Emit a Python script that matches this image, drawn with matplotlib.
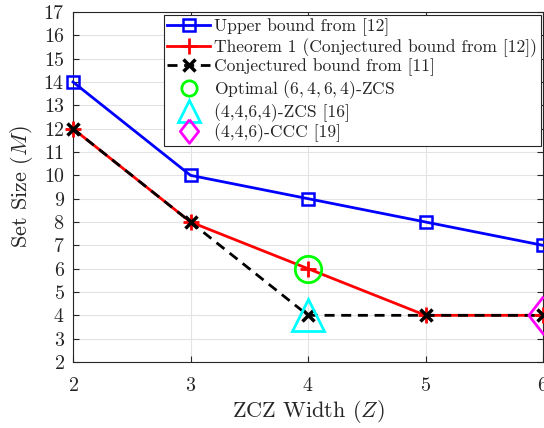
import matplotlib
matplotlib.use("Agg")
import matplotlib.pyplot as plt
from matplotlib.lines import Line2D

plt.rcParams['font.family'] = ['cmr10', 'DejaVu Serif']
plt.rcParams['mathtext.fontset'] = 'cm'
plt.rcParams['axes.formatter.use_mathtext'] = True

# Data
Z = [2, 3, 4, 5, 6]
upper_12 = [14, 10, 9, 8, 7]
theorem1 = [12, 8, 6, 4, 4]
conj_11 = [12, 8, 4, 4, 4]
opt_zcs = ([4], [6])
zcs_16 = ([4], [4])
ccc_19 = ([6], [4])
labels = ['Upper bound from [12]',
          'Theorem 1 (Conjectured bound from [12])',
          'Conjectured bound from [11]',
          r'Optimal $(6,4,6,4)$-ZCS',
          '(4,4,6,4)-ZCS [16]',
          '(4,4,6)-CCC [19]']
xticks = [2, 3, 4, 5, 6]
yticks = list(range(2, 18))

diamond = [(0, 1), (0.78, 0), (0, -1), (-0.78, 0), (0, 1)]

fig = plt.figure(figsize=(5.44, 4.28), dpi=100)
ax = fig.add_axes([73/544, 1 - 362/428, 470/544, 350/428])

ax.plot(Z, upper_12, '-', color='#0000ff', lw=2, marker='s', ms=8,
        mfc='none', mew=1.8, zorder=3, clip_on=False)
ax.plot(Z, theorem1, '-', color='#ff0000', lw=2, marker='+', ms=11,
        mew=2, zorder=4, clip_on=False)
ax.plot(Z, conj_11, color='black', lw=2, ls=(0, (3.6, 2.4)), marker='x',
        ms=8, mew=2.5, zorder=5, clip_on=False)
ax.plot(*opt_zcs, ls='none', marker='o', ms=19, mfc='none', mec='#00ff00',
        mew=2, zorder=6, clip_on=False)
ax.plot(*zcs_16, ls='none', marker='^', ms=23, mfc='none', mec='#00ffff',
        mew=2, zorder=6, clip_on=False)
ax.plot(*ccc_19, ls='none', marker=diamond, ms=27, mfc='none', mec='#ff00ff',
        mew=2, zorder=6, clip_on=False)

ax.set_xlim(2, 6)
ax.set_ylim(2, 17)
ax.set_xticks(xticks)
ax.set_yticks(yticks)
ax.grid(True, color='#e3e3e3', lw=0.8)
ax.set_axisbelow(True)
for s in ax.spines.values():
    s.set_color('#262626')
    s.set_linewidth(0.8)
ax.tick_params(direction='in', length=4.5, width=0.8, color='#262626',
               top=True, right=True, labelsize=14.4, labelcolor='#262626')
ax.tick_params(axis='x', pad=11)
ax.tick_params(axis='y', pad=6)

ax.set_xlabel(r'ZCZ Width ($Z$)', fontsize=16, color='#262626', labelpad=2)
ax.set_ylabel(r'Set Size ($M$)', fontsize=16, color='#262626', labelpad=6)

handles = [
    Line2D([], [], color='#0000ff', lw=2, marker='s', ms=8, mfc='none', mew=1.8),
    Line2D([], [], color='#ff0000', lw=2, marker='+', ms=11, mew=2),
    Line2D([], [], color='black', lw=2, ls=(0, (3.6, 2.4)), marker='x', ms=8, mew=2.5),
    Line2D([], [], ls='none', marker='o', ms=11, mfc='none', mec='#00ff00', mew=2),
    Line2D([], [], ls='none', marker='^', ms=16, mfc='none', mec='#00ffff', mew=2),
    Line2D([], [], ls='none', marker=diamond, ms=17, mfc='none', mec='#ff00ff', mew=2),
]
leg = fig.legend(handles, labels, loc='upper right',
                 bbox_to_anchor=(541/544, 1 - 15/428), bbox_transform=fig.transFigure,
                 borderaxespad=0, fontsize=12.6, handlelength=2.45, handletextpad=0.25,
                 labelspacing=0.11, borderpad=0.2, fancybox=False, framealpha=1,
                 edgecolor='#262626')
leg.get_frame().set_linewidth(0.8)
for t in leg.get_texts():
    t.set_color('#262626')

fig.savefig('out.png', dpi=100)
